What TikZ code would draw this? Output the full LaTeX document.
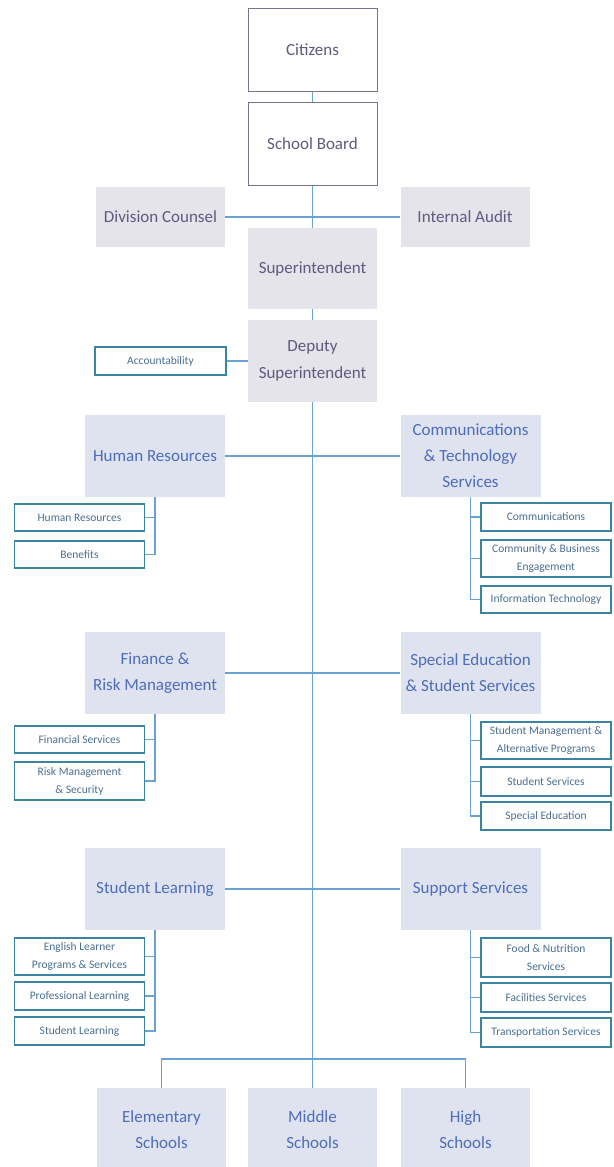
\documentclass[tikz,border=0pt]{standalone}
\usepackage{fontspec}
\setmainfont{Carlito}

\definecolor{topink}{HTML}{5E5A80}
\definecolor{topgray}{HTML}{E4E4EA}
\definecolor{midink}{HTML}{4D6DB8}
\definecolor{midfill}{HTML}{DFE3F0}
\definecolor{subink}{HTML}{4A6F92}
\definecolor{subline}{HTML}{3C85A2}
\definecolor{link}{HTML}{6BA2D6}

\begin{document}
\begin{tikzpicture}[x = 1pt, y = -1pt,
    topbox/.style = {draw = topink!85, line width = 1pt, fill = white, text = topink,
        minimum width = 129pt, minimum height = 83pt, inner sep = 0pt, align = center,
        font = \fontsize{17}{26}\selectfont},
    graybox/.style = {fill = topgray, text = topink, minimum width = 129pt,
        inner sep = 0pt, align = center, font = \fontsize{17}{27}\selectfont},
    unitbox/.style = {fill = midfill, text = midink, minimum width = 140pt, minimum height = 82pt,
        inner sep = 0pt, align = center, font = \fontsize{17}{26}\selectfont},
    subbox/.style = {draw = subline, line width = 1.2pt, fill = white, text = subink,
        minimum width = 130pt, inner sep = 0pt, align = center,
        font = \fontsize{11.5}{18}\selectfont},
    link/.style = {draw = link, line width = 1.4pt}]

    \useasboundingbox (0, 0) rectangle (613, 1167);

    % board and office
    \node[topbox] (citizens) at (312.5, 50){Citizens};
    \node[topbox] (board) at (312.5, 143.5){School Board};
    \node[graybox, minimum height = 60pt] (counsel) at (160.5, 217){Division Counsel};
    \node[graybox, minimum height = 60pt] (audit) at (465, 217){Internal Audit};
    \node[graybox, minimum height = 81pt] (supt) at (312.5, 268.5){Superintendent};
    \node[graybox, minimum height = 82pt] (deputy) at (312.5, 361){Deputy\\Superintendent};
    \node[subbox, minimum width = 131pt, minimum height = 28pt] (acct) at (160.5, 361){Accountability};

    \draw[link] (citizens.south) -- (board.north);
    \draw[link] (board.south) -- (supt.north);
    \draw[link] (counsel.east) -- (audit.west);
    \draw[link] (supt.south) -- (deputy.north);
    \draw[link] (acct.east) -- (deputy.west);

    % departments
    \node[unitbox] (hr) at (155, 456){Human Resources};
    \node[unitbox] (comm) at (470.5, 456){Communications\\\& Technology\\Services};
    \node[unitbox] (fin) at (155, 673){Finance \&\\Risk Management};
    \node[unitbox] (sped) at (470.5, 673){Special Education\\\& Student Services};
    \node[unitbox] (learn) at (155, 889){Student Learning};
    \node[unitbox] (support) at (470.5, 889){Support Services};

    \draw[link] (hr.east) -- (comm.west);
    \draw[link] (fin.east) -- (sped.west);
    \draw[link] (learn.east) -- (support.west);

    % offices under each department
    \node[subbox, minimum height = 27pt] (hrA) at (79.5, 517.5){Human Resources};
    \node[subbox, minimum height = 27pt] (hrB) at (79.5, 554.5){Benefits};
    \node[subbox, minimum height = 28pt] (commA) at (546, 517){Communications};
    \node[subbox, minimum height = 37pt] (commB) at (546, 558.5){Community \& Business\\Engagement};
    \node[subbox, minimum height = 27pt] (commC) at (546, 599.5){Information Technology};

    \node[subbox, minimum height = 27pt] (finA) at (79.5, 739.5){Financial Services};
    \node[subbox, minimum height = 38pt] (finB) at (79.5, 781){Risk Management\\\& Security};
    \node[subbox, minimum height = 37pt] (spedA) at (546, 740.5){Student Management \&\\Alternative Programs};
    \node[subbox, minimum height = 29pt] (spedB) at (546, 781.5){Student Services};
    \node[subbox, minimum height = 28pt] (spedC) at (546, 816){Special Education};

    \node[subbox, minimum height = 37pt] (learnA) at (79.5, 956.5){English Learner\\Programs \& Services};
    \node[subbox, minimum height = 28pt] (learnB) at (79.5, 996){Professional Learning};
    \node[subbox, minimum height = 28pt] (learnC) at (79.5, 1031){Student Learning};
    \node[subbox, minimum height = 39pt] (supportA) at (546, 957.5){Food \& Nutrition\\Services};
    \node[subbox, minimum height = 29pt] (supportB) at (546, 997.5){Facilities Services};
    \node[subbox, minimum height = 29pt] (supportC) at (546, 1032.5){Transportation Services};

    \foreach \dept/\unit in {hr/hrA, hr/hrB, fin/finA, fin/finB, learn/learnA, learn/learnB, learn/learnC}
        \draw[link] (\dept.south) |- (\unit.east);
    \foreach \dept/\unit in {comm/commA, comm/commB, comm/commC, sped/spedA, sped/spedB, sped/spedC,
        support/supportA, support/supportB, support/supportC}
        \draw[link] (\dept.south) |- (\unit.west);

    % schools
    \node[unitbox, minimum width = 129pt, minimum height = 84pt] (elem) at (161.5, 1130){Elementary\\Schools};
    \node[unitbox, minimum width = 129pt, minimum height = 84pt] (middle) at (312.5, 1130){Middle\\Schools};
    \node[unitbox, minimum width = 129pt, minimum height = 84pt] (high) at (465.5, 1130){High\\Schools};
    \coordinate (split) at (312.5, 1059);

    \draw[link] (deputy.south) -- (middle.north);
    \draw[link] (elem.north) |- (split) -| (high.north);
\end{tikzpicture}
\end{document}
